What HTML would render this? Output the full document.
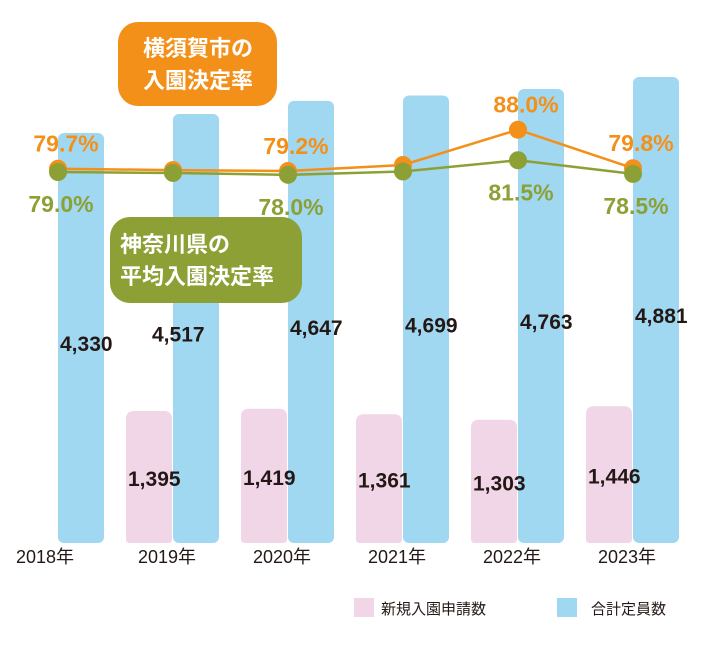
<!DOCTYPE html>
<html><head><meta charset="utf-8"><style>
body{margin:0;background:#fff;width:720px;height:654px;overflow:hidden}
svg text{font-family:"Liberation Sans","Noto Sans CJK JP",sans-serif}
</style></head><body>
<svg id="chart" width="720" height="654" xmlns="http://www.w3.org/2000/svg">
<g id="bars"></g><g id="lines"></g>
<g>
<rect x="118" y="22" width="159" height="84" rx="20" fill="#F39019"/>
<text x="198" y="56" text-anchor="middle" font-size="22" font-weight="bold" fill="#fff">横須賀市の</text>
<text x="198" y="88" text-anchor="middle" font-size="22" font-weight="bold" fill="#fff">入園決定率</text>
</g>
<g>
<rect x="110" y="217" width="192" height="86" rx="20" fill="#8DA035"/>
<text x="120" y="252" font-size="22" font-weight="bold" fill="#fff">神奈川県の</text>
<text x="120" y="284" font-size="22" font-weight="bold" fill="#fff">平均入園決定率</text>
</g>
<g id="labels"></g>
<g>
<rect x="354" y="598" width="20" height="19" fill="#F0D6E6"/>
<text x="381" y="614" font-size="15" fill="#231815">新規入園申請数</text>
<rect x="557" y="598" width="20" height="19" fill="#A0D8F2"/>
<text x="591" y="614" font-size="15" fill="#231815">合計定員数</text>
</g>
</svg>
<script>
const years=["2018年","2019年","2020年","2021年","2022年","2023年"];
const capacity=[4330,4517,4647,4699,4763,4881];
const applications=[null,1395,1419,1361,1303,1446];
const yokosukaRate=[79.7,79.4,79.2,80.5,88.0,79.8];
const kanagawaRate=[79.0,78.8,78.4,79.1,81.5,78.6];
const yokosukaLabels=["79.7%",null,"79.2%",null,"88.0%","79.8%"];
const kanagawaLabels=["79.0%",null,"78.0%",null,"81.5%","78.5%"];
const NS="http://www.w3.org/2000/svg";
const base=543;
function xBlue(i){return 58+i*115;}
function xPink(i){return xBlue(i)-47;}
function hCap(v){return (v-295)*0.1016;}
function hApp(v){return v*0.0946;}
function yRate(v){return 172-(v-79)*4.7;}
function mk(tag,attrs,parent){const e=document.createElementNS(NS,tag);for(const k in attrs)e.setAttribute(k,attrs[k]);parent.appendChild(e);return e;}
const gb=document.getElementById('bars'),gl=document.getElementById('lines'),gt=document.getElementById('labels');
years.forEach((y,i)=>{
  if(applications[i]!=null){
    const h=hApp(applications[i]);
    const r=mk('path',{d:`M${xPink(i)},${base} V${base-h+8} Q${xPink(i)},${base-h} ${xPink(i)+8},${base-h} H${xPink(i)+38} Q${xPink(i)+46},${base-h} ${xPink(i)+46},${base-h+8} V${base-4} Q${xPink(i)+46},${base} ${xPink(i)+42},${base} H${xPink(i)+4} Q${xPink(i)},${base} ${xPink(i)},${base-4}Z`,fill:'#F0D6E6'},gb);
    
    
    const t=mk('text',{x:xPink(i)+2,y:base-h/2+9,'font-size':21,'font-weight':'bold',fill:'#231815'},gt);
    t.textContent=applications[i].toLocaleString('en-US');
    
    
  }
  const h=hCap(capacity[i]);
  const b=mk('rect',{x:xBlue(i),y:base-h,width:46,height:h,rx:6,fill:'#A0D8F2'},gb);
  
  
  const t=mk('text',{x:xBlue(i)+2+(i==1?-23:0),y:base-h/2+13,'font-size':21,'font-weight':'bold',fill:'#231815'},gt);
  t.textContent=capacity[i].toLocaleString('en-US');
  
  
  const yl=mk('text',{x:xBlue(i)-13+(i>0?7:0),y:563,'font-size':18,'text-anchor':'middle',fill:'#231815'},gt);
  yl.textContent=y;
  
  
});
function series(vals,color,name,labels,above){
  const pts=vals.map((v,i)=>[xBlue(i),yRate(v)]);
  const l=mk('polyline',{points:pts.map(p=>p.join(',')).join(' '),fill:'none',stroke:color,'stroke-width':2.5},gl);
  
  
  pts.forEach((p,i)=>{
    const c=mk('circle',{cx:p[0],cy:p[1],r:9,fill:color},gl);
    
    
    if(labels[i]){
      const t=mk('text',{x:p[0]+(above?8:3),y:above?p[1]-17:p[1]+40,'text-anchor':'middle','font-size':23,'font-weight':'bold',fill:color},gt);
      t.textContent=labels[i];
      
      
    }
  });
}
series(yokosukaRate,'#F39019','yokosuka-rate',yokosukaLabels,true);
series(kanagawaRate,'#8DA035','kanagawa-rate',kanagawaLabels,false);
</script>
</body></html>
